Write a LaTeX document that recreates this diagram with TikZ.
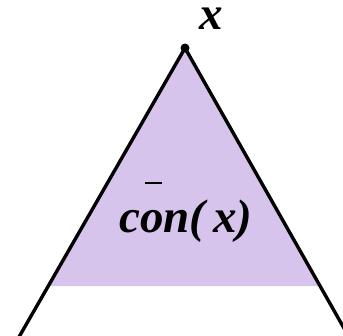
\documentclass[tikz,border=0pt]{standalone}
\usepackage{fontspec}
\setmainfont{Liberation Serif}
\definecolor{lilac}{RGB}{214,196,236}
\tikzset{edge/.style={line width=3.4pt,line cap=round},
  lbl/.style={font=\fontsize{47}{50}\selectfont\bfseries\itshape,inner sep=0pt}}
\begin{document}
\begin{tikzpicture}[x=1pt,y=-1pt]
\useasboundingbox (0,0) rectangle (343,335);
\clip (0,0) rectangle (343,335);
\coordinate (apex) at (185,48);
\coordinate (fl) at (48,286);
\coordinate (fr) at (320,286);
\coordinate (bl) at (19,337);
\coordinate (br) at (349,337);
\fill[lilac] (apex) -- (fl) -- (fr) -- cycle;
\draw[edge] (bl) -- (apex) -- (br);
\fill (apex) circle (4.5);
\node[lbl,anchor=base] (xl) at (211,29.5) {x};
\node[lbl,anchor=base] (con) at (186,232) {con(\,x)};
\draw[line width=1.8pt] (145,183) -- (162,183);
\end{tikzpicture}
\end{document}
